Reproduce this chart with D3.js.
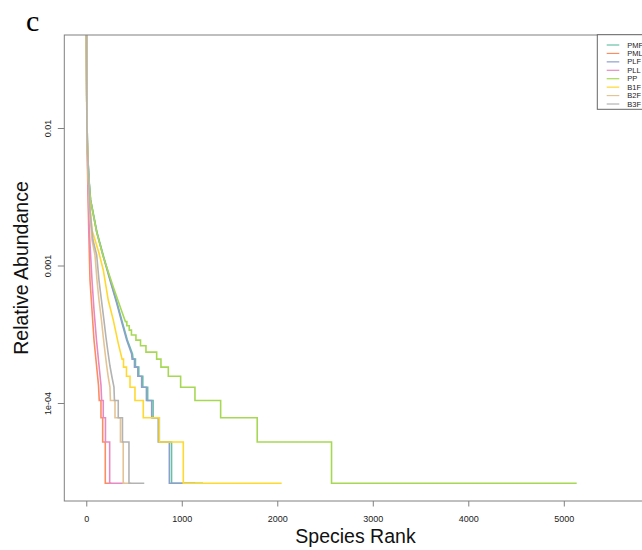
<!DOCTYPE html>
<html>
<head>
<meta charset="utf-8">
<script src="https://cdn.jsdelivr.net/npm/d3@7"></script>
<style>
  html, body { margin: 0; padding: 0; background: #fff; }
  svg { display: block; }
</style>
</head>
<body>
<svg id="chart" width="642" height="550"></svg>
<script>
// Rank-abundance curves, one per sample: [species rank, relative abundance]
const samples = ["PMF", "PML", "PLF", "PLL", "PP", "B1F", "B2F", "B3F"];
const palette = ["#66C2A5", "#FC8D62", "#8DA0CB", "#E78AC3", "#A6D854", "#FFD92F", "#E5C494", "#B3B3B3"];

const PMF = [[1,0.12],[3,0.04],[5,0.016],[13,0.0069],[29,0.0042],[46,0.0030],[112,0.00175],[182,0.00116],
  [252,7.84e-4],[323,5.34e-4],[377,3.88e-4],[430,2.87e-4],[484,2.27e-4],[490,2.085e-4],[515,2.085e-4],
  [515,1.824e-4],[550,1.824e-4],[550,1.564e-4],[592,1.564e-4],[592,1.303e-4],[643,1.303e-4],
  [643,1.042e-4],[700,1.042e-4],[700,7.82e-5],[765,7.82e-5],[765,5.21e-5],[893,5.21e-5],
  [893,2.61e-5],[1222,2.61e-5]];
const PML = [[1,0.1],[3,0.035],[6,0.01],[15,0.0042],[26,0.00181],[39,7.84e-4],[60,4.75e-4],[81,2.87e-4],
  [107,1.889e-4],[128,1.35e-4],[136,1.042e-4],[154,1.042e-4],[154,7.82e-5],[172,7.82e-5],[172,5.21e-5],
  [199,5.21e-5],[199,2.61e-5],[262,2.61e-5]];
const PLF = [[1,0.12],[3,0.04],[5,0.016],[13,0.0069],[28,0.0042],[44,0.0030],[109,0.00175],[178,0.00116],
  [248,7.84e-4],[318,5.34e-4],[371,3.88e-4],[423,2.87e-4],[475,2.27e-4],[480,2.085e-4],[505,2.085e-4],
  [505,1.824e-4],[540,1.824e-4],[540,1.564e-4],[580,1.564e-4],[580,1.303e-4],[630,1.303e-4],
  [630,1.042e-4],[685,1.042e-4],[685,7.82e-5],[754,7.82e-5],[754,5.21e-5],[870,5.21e-5],
  [870,2.61e-5],[1140,2.61e-5]];
const PLL = [[1,0.1],[3,0.035],[7,0.01],[18,0.0042],[31,0.00181],[60,7.84e-4],[81,4.75e-4],[107,2.87e-4],
  [133,1.889e-4],[154,1.35e-4],[161,1.042e-4],[178,1.042e-4],[178,7.82e-5],[201,7.82e-5],[201,5.21e-5],
  [245,5.21e-5],[245,2.61e-5],[400,2.61e-5]];
const PP = [[1,0.12],[3,0.04],[5,0.016],[13,0.0069],[28,0.0042],[44,0.0030],[109,0.00175],[178,0.00116],
  [227,9.12e-4],[283,6.98e-4],[374,4.59e-4],[410,3.909e-4],[425,3.909e-4],[425,3.649e-4],[450,3.649e-4],
  [450,3.388e-4],[473,3.388e-4],[473,3.127e-4],[520,3.127e-4],[520,2.867e-4],[568,2.867e-4],
  [568,2.606e-4],[625,2.606e-4],[625,2.346e-4],
  [737,2.346e-4],[737,2.085e-4],[782,2.085e-4],[782,1.824e-4],[859,1.824e-4],[859,1.564e-4],[988,1.564e-4],
  [988,1.303e-4],[1138,1.303e-4],[1138,1.042e-4],[1407,1.042e-4],[1407,7.82e-5],[1790,7.82e-5],
  [1790,5.21e-5],[2568,5.21e-5],[2568,2.61e-5],[5135,2.61e-5]];
const B1F = [[1,0.1],[3,0.035],[6,0.01],[18,4.95e-3],[34,0.003],[60,1.813e-3],[133,1.233e-3],[178,9.28e-4],
  [230,5.61e-4],[283,4.01e-4],[335,2.717e-4],[375,2.085e-4],[390,2.085e-4],[390,1.824e-4],[421,1.824e-4],
  [421,1.564e-4],[458,1.564e-4],[458,1.303e-4],
  [510,1.303e-4],[510,1.042e-4],[597,1.042e-4],[597,7.82e-5],[764,7.82e-5],[764,5.21e-5],[1016,5.21e-5],
  [1016,2.61e-5],[2046,2.61e-5]];
const B2F = [[1,0.1],[3,0.035],[7,0.01],[18,4.95e-3],[34,2.533e-3],[60,1.533e-3],[91,1.193e-3],[112,7.84e-4],
  [133,5.61e-4],[159,4.01e-4],[178,3.02e-4],[196,2.35e-4],[214,1.858e-4],[230,1.546e-4],[248,1.307e-4],
  [253,1.042e-4],[301,1.042e-4],[301,7.82e-5],[358,7.82e-5],[358,5.21e-5],[387,5.21e-5],[387,2.61e-5],
  [470,2.61e-5]];
const B3F = [[1,0.1],[3,0.035],[7,0.01],[21,4.95e-3],[39,2.533e-3],[70,1.533e-3],[109,1.193e-3],[133,7.84e-4],
  [159,5.61e-4],[185,4.01e-4],[206,3.02e-4],[227,2.35e-4],[248,1.858e-4],[269,1.546e-4],[290,1.307e-4],
  [295,1.042e-4],[335,1.042e-4],[335,7.82e-5],[379,7.82e-5],[379,5.21e-5],[447,5.21e-5],[447,2.61e-5],
  [607,2.61e-5]];

const seriesData = [PMF, PML, PLF, PLL, PP, B1F, B2F, B3F];

const xTicks = [0, 1000, 2000, 3000, 4000, 5000];
const yTicks = [0.01, 0.001, 1e-4];
const yTickLabels = ["0.01", "0.001", "1e-04"];

// Plot region
const plot = { left: 64.3, right: 646.7, top: 35, bottom: 501 };

const svg = d3.select("#chart");
svg.append("rect").attr("width", 642).attr("height", 550).attr("fill", "#fff");

const x = d3.scaleLinear().domain([-230, 5868]).range([plot.left, plot.right]);
const y = d3.scaleLog().domain([1.938e-5, 0.04747]).range([plot.bottom, plot.top]);

svg.append("defs").append("clipPath").attr("id", "plotClip")
  .append("rect")
  .attr("x", plot.left).attr("y", plot.top)
  .attr("width", plot.right - plot.left).attr("height", plot.bottom - plot.top);

// Curves
const line = d3.line().x(d => x(d[0])).y(d => y(d[1]));
const curves = svg.append("g").attr("clip-path", "url(#plotClip)");
seriesData.forEach((s, i) => {
  curves.append("path")
    .datum(s)
    .attr("d", line)
    .attr("fill", "none")
    .attr("stroke", palette[i])
    .attr("stroke-width", 1.6)
    .attr("stroke-linejoin", "miter");
});

// Frame
svg.append("rect")
  .attr("x", plot.left).attr("y", plot.top)
  .attr("width", plot.right - plot.left).attr("height", plot.bottom - plot.top)
  .attr("fill", "none").attr("stroke", "#808080").attr("stroke-width", 1);

// X axis
const xAxis = svg.append("g").attr("transform", `translate(0,${plot.bottom})`)
  .call(d3.axisBottom(x).tickValues(xTicks).tickSize(5.5).tickFormat(d3.format("d")));
xAxis.select(".domain").remove();
xAxis.selectAll(".tick line").attr("stroke", "#808080");
xAxis.selectAll(".tick text")
  .attr("y", 18).attr("dy", "0.35em")
  .attr("fill", "#222")
  .style("font-family", "Liberation Sans, Arial, sans-serif")
  .style("font-size", "9px");

// Y axis
const yAxis = svg.append("g").attr("transform", `translate(${plot.left},0)`)
  .call(d3.axisLeft(y).tickValues(yTicks).tickSize(6.5).tickFormat((d, i) => yTickLabels[i]));
yAxis.select(".domain").remove();
yAxis.selectAll(".tick line").attr("stroke", "#808080");
yAxis.selectAll(".tick text")
  .attr("x", 0).attr("dy", "0.35em")
  .attr("text-anchor", "middle")
  .attr("transform", "translate(-16,0) rotate(-90)")
  .attr("fill", "#222")
  .style("font-family", "Liberation Sans, Arial, sans-serif")
  .style("font-size", "9px");

// Axis titles
svg.append("text")
  .attr("x", 355.5).attr("y", 543)
  .attr("text-anchor", "middle")
  .style("font-family", "Liberation Sans, Arial, sans-serif")
  .style("font-size", "19.5px")
  .attr("fill", "#111")
  .text("Species Rank");

svg.append("text")
  .attr("transform", `translate(28.3,${(plot.top + plot.bottom) / 2}) rotate(-90)`)
  .attr("text-anchor", "middle")
  .style("font-family", "Liberation Sans, Arial, sans-serif")
  .style("font-size", "19.5px")
  .attr("fill", "#111")
  .text("Relative Abundance");

// Panel letter
svg.append("text")
  .attr("x", 26).attr("y", 30.7)
  .style("font-family", "Liberation Serif, Times New Roman, serif")
  .style("font-size", "30px")
  .attr("fill", "#000")
  .text("c");

// Legend
const legend = svg.append("g");
legend.append("rect")
  .attr("x", 597.3).attr("y", 34.7)
  .attr("width", 70).attr("height", 74.6)
  .attr("fill", "#fff").attr("stroke", "#666").attr("stroke-width", 1);
samples.forEach((name, i) => {
  const cy = 45 + i * 8.43;
  legend.append("line")
    .attr("x1", 606.7).attr("x2", 619.3).attr("y1", cy).attr("y2", cy)
    .attr("stroke", palette[i]).attr("stroke-width", 1.2);
  legend.append("text")
    .attr("x", 627.3).attr("y", cy).attr("dy", "0.35em")
    .style("font-family", "Liberation Sans, Arial, sans-serif")
    .style("font-size", "7.5px")
    .attr("fill", "#222")
    .text(name);
});
</script>
</body>
</html>
